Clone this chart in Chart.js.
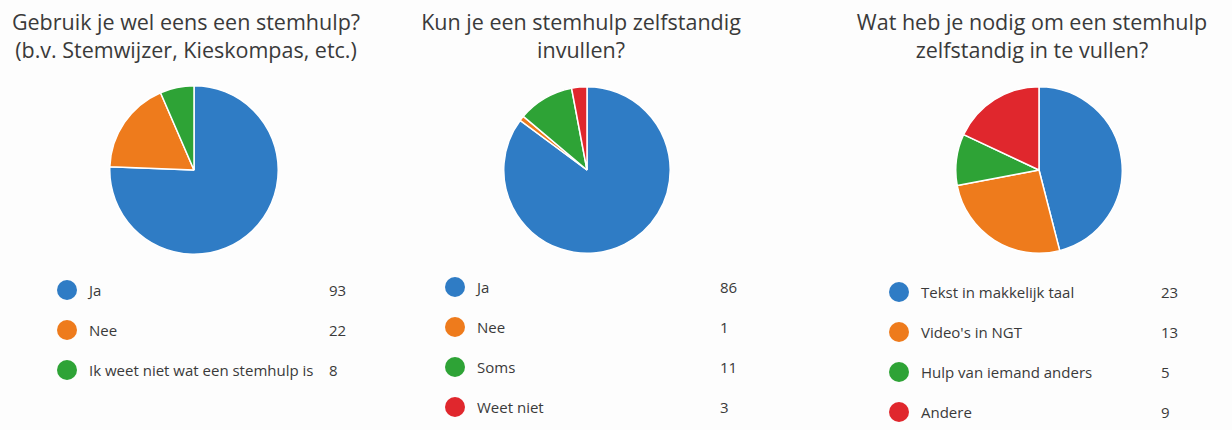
<!DOCTYPE html>
<html>
<head>
<meta charset="utf-8">
<script src="https://cdn.jsdelivr.net/npm/chart.js@4"></script>
<style>
  html, body { margin: 0; padding: 0; background: #fdfdfd; }
  body { width: 1232px; height: 430px; position: relative; overflow: hidden; font-family: "Open Sans", "Noto Sans", sans-serif; color: #333; }
  .title { position: absolute; text-align: center; font-size: 21.5px; line-height: 28px; white-space: nowrap; color: #3a3a3a; }
  .pie { position: absolute; }
  .leg { position: absolute; font-size: 15px; color: #3a3a3a; }
  .row { position: absolute; height: 20px; line-height: 20px; white-space: nowrap; }
  .dot { position: absolute; width: 20px; height: 20px; border-radius: 50%; left: 0; top: 0; }
  .lab { position: absolute; top: 0; }
  .val { position: absolute; top: 0; }
</style>
</head>
<body>
<script>
// ---- data ----
const colors = ["#2f7cc5", "#ee7b1c", "#2ea336", "#e0272d"];

const title1 = ["Gebruik je wel eens een stemhulp?", "(b.v. Stemwijzer, Kieskompas, etc.)"];
const labels1 = ["Ja", "Nee", "Ik weet niet wat een stemhulp is"];
const values1 = [93, 22, 8];

const title2 = ["Kun je een stemhulp zelfstandig", "invullen?"];
const labels2 = ["Ja", "Nee", "Soms", "Weet niet"];
const values2 = [86, 1, 11, 3];

const title3 = ["Wat heb je nodig om een stemhulp", "zelfstandig in te vullen?"];
const labels3 = ["Tekst in makkelijk taal", "Video's in NGT", "Hulp van iemand anders", "Andere"];
const values3 = [23, 13, 5, 9];

// ---- layout ----
const panels = [
  { title: title1, labels: labels1, values: values1, titleX: 186, cx: 194, cy: 170, r: 84, legX: 57, legY: 280, valX: 272, step: 40 },
  { title: title2, labels: labels2, values: values2, titleX: 581, cx: 587, cy: 170, r: 83, legX: 445, legY: 277, valX: 275, step: 40 },
  { title: title3, labels: labels3, values: values3, titleX: 1032, cx: 1039, cy: 170, r: 83, legX: 889, legY: 282, valX: 272, step: 40 }
];

panels.forEach((p) => {
  const t = document.createElement('div');
  t.className = 'title';
  t.style.left = (p.titleX - 250) + 'px';
  t.style.width = '500px';
  t.style.top = '8px';
  t.innerHTML = p.title.join('<br>');
  document.body.appendChild(t);

  const size = 2 * p.r + 2;
  const c = document.createElement('canvas');
  c.className = 'pie';
  c.width = size; c.height = size;
  c.style.left = (p.cx - size / 2) + 'px';
  c.style.top = (p.cy - size / 2) + 'px';
  c.style.width = size + 'px'; c.style.height = size + 'px';
  document.body.appendChild(c);

  new Chart(c, {
    type: 'pie',
    data: {
      labels: p.labels,
      datasets: [{
        data: p.values,
        backgroundColor: colors.slice(0, p.values.length),
        borderColor: '#ffffff',
        borderWidth: 1.5
      }]
    },
    options: {
      responsive: false,
      animation: false,
      layout: { padding: 0 },
      plugins: { legend: { display: false }, tooltip: { enabled: false } }
    }
  });

  const leg = document.createElement('div');
  leg.className = 'leg';
  leg.style.left = p.legX + 'px';
  leg.style.top = p.legY + 'px';
  p.labels.forEach((lab, i) => {
    const row = document.createElement('div');
    row.className = 'row';
    row.style.top = (i * p.step) + 'px';
    row.innerHTML = '<span class="dot" style="background:' + colors[i] + '"></span>' +
      '<span class="lab" style="left:32px">' + lab + '</span>' +
      '<span class="val" style="left:' + p.valX + 'px">' + p.values[i] + '</span>';
    leg.appendChild(row);
  });
  document.body.appendChild(leg);
});
</script>
</body>
</html>
